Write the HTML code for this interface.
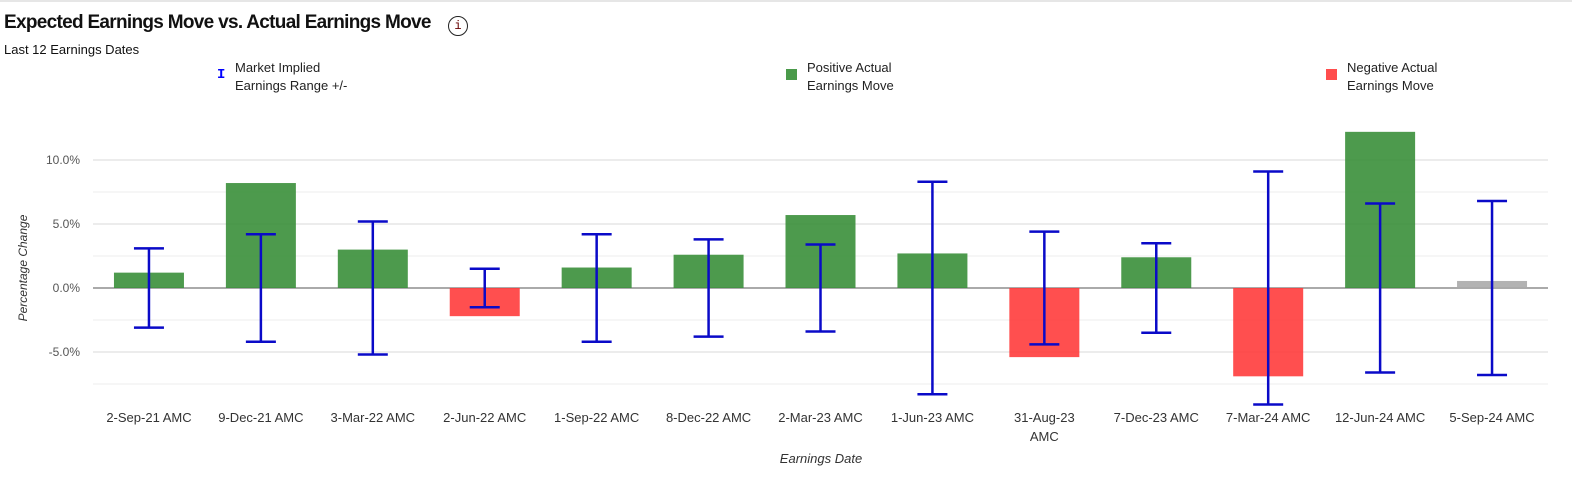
<!DOCTYPE html>
<html><head><meta charset="utf-8"><style>
body{margin:0;background:#fff;width:1572px;height:484px;overflow:hidden;font-family:"Liberation Sans",sans-serif;}
.t{position:absolute;white-space:nowrap}
</style></head><body>
<div style="position:absolute;left:0;top:0;width:1572px;height:2px;background:#e6e6e6"></div>
<div class="t" style="left:4px;top:12px;font-size:19px;font-weight:bold;letter-spacing:-0.7px;color:#111">Expected Earnings Move vs. Actual Earnings Move</div>
<div style="position:absolute;left:448px;top:16px;width:18px;height:18px;border:1.5px solid #222;border-radius:50%;font-size:12px;text-align:center;line-height:18px;color:#600;font-family:'Liberation Mono',monospace">i</div>
<div class="t" style="left:4px;top:42px;font-size:13px;color:#111">Last 12 Earnings Dates</div>
<div>
<div class="t" style="left:217px;top:67px;font-size:14px;font-weight:bold;color:#00f;font-family:'Liberation Mono',monospace">I</div>
<div class="t" style="left:235px;top:59px;font-size:13px;line-height:18px;color:#222">Market Implied<br>Earnings Range +/-</div></div>
<div>
<div style="position:absolute;left:786px;top:69px;width:11px;height:11px;background:#4a9a4a"></div>
<div class="t" style="left:807px;top:59px;font-size:13px;line-height:18px;color:#222">Positive Actual<br>Earnings Move</div></div>
<div>
<div style="position:absolute;left:1326px;top:69px;width:11px;height:11px;background:#ff4d4d"></div>
<div class="t" style="left:1347px;top:59px;font-size:13px;line-height:18px;color:#222">Negative Actual<br>Earnings Move</div></div>
<svg id="c" width="1572" height="484" style="position:absolute;left:0;top:0"></svg>
<script>
const categories=["2-Sep-21 AMC","9-Dec-21 AMC","3-Mar-22 AMC","2-Jun-22 AMC","1-Sep-22 AMC","8-Dec-22 AMC","2-Mar-23 AMC","1-Jun-23 AMC","31-Aug-23|AMC","7-Dec-23 AMC","7-Mar-24 AMC","12-Jun-24 AMC","5-Sep-24 AMC"];
const actualMove=[1.2,8.2,3.0,-2.2,1.6,2.6,5.7,2.7,-5.4,2.4,-6.9,12.2,0.55];
const impliedRange=[3.1,4.2,5.2,1.5,4.2,3.8,3.4,8.3,4.4,3.5,9.1,6.6,6.8];
const pending=[false,false,false,false,false,false,false,false,false,false,false,false,true];
const yTicks=[10,5,0,-5];
const yTickLabels=["10.0%","5.0%","0.0%","-5.0%"];
const minorTicks=[7.5,2.5,-2.5,-7.5];
const svg=document.getElementById('c');const NS='http://www.w3.org/2000/svg';
const x0=93,x1=1548,bw=(x1-x0)/categories.length;
const y=v=>288-v*12.8;const xc=i=>x0+bw*(i+0.5);
function mk(t,a,p){const e=document.createElementNS(NS,t);for(const k in a)e.setAttribute(k,a[k]);(p||svg).appendChild(e);return e;}
minorTicks.forEach(v=>{const l=mk('line',{x1:x0,x2:x1,y1:y(v),y2:y(v),stroke:'#eeeeee'});});
yTicks.forEach((v,i)=>{const l=mk('line',{x1:x0,x2:x1,y1:y(v),y2:y(v),stroke:v==0?'#555':'#d8d8d8'});
const t=mk('text',{x:80,y:y(v)+4,'text-anchor':'end','font-size':12,fill:'#555'});t.textContent=yTickLabels[i];});
categories.forEach((c,i)=>{const v=actualMove[i];const col=pending[i]?'#aaaaaa':(v>=0?'#3a8f3a':'#ff3c3c');
const r=mk('rect',{x:xc(i)-35,width:70,y:Math.min(y(v),y(0)),height:Math.abs(y(v)-y(0)),fill:col,'fill-opacity':0.9});

const g=mk('g',{stroke:'#0a0ac8','stroke-width':2.5});
const a=y(impliedRange[i]),b=y(-impliedRange[i]);
mk('line',{x1:xc(i),x2:xc(i),y1:a,y2:b},g);mk('line',{x1:xc(i)-15,x2:xc(i)+15,y1:a,y2:a},g);mk('line',{x1:xc(i)-15,x2:xc(i)+15,y1:b,y2:b},g);
c.split('|').forEach((s,j)=>{const t=mk('text',{x:xc(i),y:422+j*19,'text-anchor':'middle','font-size':13,fill:'#333'});t.textContent=s;});});
let t=mk('text',{x:821,y:463,'text-anchor':'middle','font-size':13,'font-style':'italic',fill:'#333'});t.textContent='Earnings Date';
t=mk('text',{x:0,y:0,transform:'translate(27,268) rotate(-90)','text-anchor':'middle','font-size':12,'font-style':'italic',fill:'#333'});t.textContent='Percentage Change';
</script>
</body></html>
